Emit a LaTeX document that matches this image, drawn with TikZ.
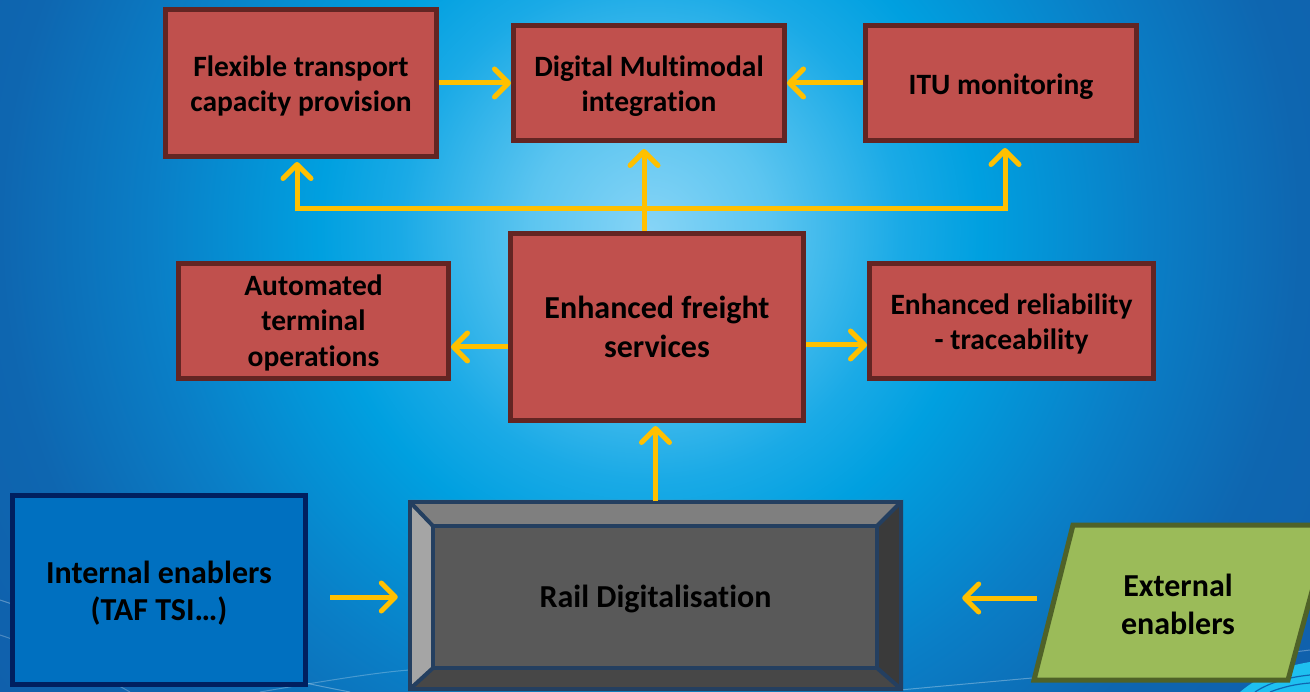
\documentclass[tikz,border=0pt]{standalone}
\usepackage{fontspec}
\setmainfont{Carlito}[Ligatures={NoCommon}]
\usetikzlibrary{arrows.meta,calc}
\definecolor{boxred}{HTML}{C0504D}
\definecolor{boxredb}{HTML}{632523}
\definecolor{arrowy}{HTML}{FFC000}
\definecolor{intfill}{HTML}{0070C0}
\definecolor{intb}{HTML}{002060}
\definecolor{extfill}{HTML}{9BBB59}
\definecolor{extb}{HTML}{4F6228}
\definecolor{bevb}{HTML}{243F60}
\definecolor{bevtop}{HTML}{7F7F7F}
\definecolor{bevleft}{HTML}{A5A5A5}
\definecolor{bevright}{HTML}{3A3A3A}
\definecolor{bevbot}{HTML}{474747}
\definecolor{bevface}{HTML}{595959}
\definecolor{bg1}{HTML}{86D4F6}
\definecolor{bg2}{HTML}{5CC5F0}
\definecolor{bg3}{HTML}{1AAAE6}
\definecolor{bg4}{HTML}{00A0E0}
\definecolor{bg5}{HTML}{0A7EC6}
\definecolor{bg6}{HTML}{0E66B0}
\definecolor{bg7}{HTML}{1060AC}
\definecolor{swoosh}{HTML}{1EC0F0}
\pgfdeclareradialshading{bgshade}{\pgfpoint{0bp}{0bp}}{color(0bp)=(bg1); color(3bp)=(bg2); color(6.25bp)=(bg3); color(8.25bp)=(bg4); color(12.5bp)=(bg5); color(16.25bp)=(bg6); color(20bp)=(bg7); color(50bp)=(bg7)}
\begin{document}
\begin{tikzpicture}[x=1pt,y=-1pt,
  redbox/.style={draw=boxredb, fill=boxred, line width=5pt, inner sep=0pt},
  redtxt/.style={align=center, inner sep=0pt, font=\bfseries\fontsize{29.5}{35.5}\selectfont},
  txt/.style={align=center, inner sep=0pt, font=\bfseries\fontsize{32}{38}\selectfont},
  line/.style={draw=arrowy, line width=5pt},
  arr/.style={draw=arrowy, line width=5pt, -{Straight Barb[length=14pt,width=28pt,round]}}]
\useasboundingbox (0,0) rectangle (1310,692);
% background
\begin{scope}
\clip (0,0) rectangle (1310,692);
\shade[shading=bgshade] (650,230) circle[radius=1000pt];
\draw[white, opacity=0.3, line width=1pt] (0,600) .. controls (120,640) and (260,675) .. (350,692);
\draw[white, opacity=0.25, line width=1pt] (0,635) .. controls (60,655) and (100,675) .. (130,692);
\draw[white, opacity=0.25, line width=1pt] (260,692) .. controls (330,680) and (380,672) .. (410,670);
\draw[white, opacity=0.3, line width=1pt] (900,690) .. controls (1050,676) and (1200,664) .. (1310,650);
\fill[swoosh] (1240,692) .. controls (1260,675) and (1285,666) .. (1310,662) -- (1310,692) -- cycle;
\draw[bg6, line width=1.2pt] (1255,692) .. controls (1270,682) and (1290,677) .. (1310,675);
\draw[bg6, line width=1.2pt] (1270,692) .. controls (1283,687) and (1296,684) .. (1310,683);
\end{scope}
% top row
\node[redbox, minimum width=271pt, minimum height=147pt] (flex) at (301,83) {};
\node[redtxt] at ([yshift=-3pt]flex.center) {Flexible transport\\capacity provision};
\node[redbox, minimum width=271pt, minimum height=115pt] (dig) at (649,83) {};
\node[redtxt] at ([yshift=-3pt]dig.center) {Digital Multimodal\\integration};
\node[redbox, minimum width=271pt, minimum height=115pt] (itu) at (1001,83) {};
\node[redtxt] at ([yshift=-3.5pt]itu.center) {ITU monitoring};
% middle row
\node[redbox, minimum width=270pt, minimum height=115pt] (auto) at (313.5,321) {};
\node[redtxt] at ([yshift=-1.5pt]auto.center) {Automated\\terminal\\operations};
\node[redbox, minimum width=293pt, minimum height=187pt] (efs) at (657,327) {};
\node[redtxt, font=\bfseries\fontsize{32}{39}\selectfont] at (efs.center) {Enhanced freight\\services};
\node[redbox, minimum width=284pt, minimum height=115pt] (rel) at (1011.5,321) {};
\node[redtxt] at ([yshift=-3pt]rel.center) {Enhanced reliability\\- traceability};
% bottom row
\node[draw=intb, fill=intfill, line width=5pt, minimum width=293pt, minimum height=188pt, inner sep=0pt] (int) at (159,590) {};
\node[txt, font=\bfseries\fontsize{32}{37}\selectfont] at ([yshift=-3pt]int.center) {Internal enablers\\(TAF TSI…)};
% bevel box
\fill[bevtop] (408,500) -- (903,500) -- (877,526) -- (433,526) -- cycle;
\fill[bevleft] (408,500) -- (433,526) -- (433,668) -- (408,691) -- cycle;
\fill[bevright] (903,500) -- (903,691) -- (877,668) -- (877,526) -- cycle;
\fill[bevbot] (408,691) -- (903,691) -- (877,668) -- (433,668) -- cycle;
\fill[bevface] (433,526) rectangle (877,668);
\draw[bevb, line width=4pt] (410,502) rectangle (901,689);
\draw[bevb, line width=4pt] (433,526) rectangle (877,668);
\draw[bevb, line width=4pt] (410,502) -- (433,526) (901,502) -- (877,526) (410,689) -- (433,668) (901,689) -- (877,668);
\node[minimum width=495pt, minimum height=191pt, inner sep=0pt] (railbox) at (655.5,597) {};
\node[txt] at ([yshift=-2pt]railbox.center) {Rail Digitalisation};
% external parallelogram
\draw[extb, fill=extfill, line width=5pt] (1073,525) -- (1330,525) -- (1288,680) -- (1034,680) -- cycle;
\node[txt] (ext) at (1178,604) {External\\enablers};
% connectors
\draw[arr] (flex.east) -- (dig.west);
\draw[arr] (itu.west) -- (dig.east);
\coordinate (tl) at (297,209);
\coordinate (tm) at (644,209);
\coordinate (tr) at (1005,209);
\draw[line] (efs.north -| tm) -- (tm);
\draw[line] ([xshift=-2.5pt]tl) -- ([xshift=2.5pt]tr);
\draw[arr, shorten >=3pt] ([yshift=-2.5pt]tl) -- (tl |- flex.south);
\draw[arr, shorten >=6pt] ([yshift=-2.5pt]tm) -- (tm |- dig.south);
\draw[arr, shorten >=5pt] ([yshift=-2.5pt]tr) -- (tr |- itu.south);
\draw[arr] ([yshift=-20pt]efs.west) coordinate (a1) -- (a1 -| auto.east);
\draw[arr] ([yshift=-18pt]efs.east) coordinate (a2) -- (a2 -| rel.west);
\draw[arr, shorten >=3pt] (railbox.north) -- (railbox.north |- efs.south);
\draw[arr, shorten <=22pt, shorten >=10pt] (int.east |- railbox) -- (railbox.west);
\coordinate (extl) at (1037,598);
\draw[arr, shorten >=59pt] (extl) -- (extl -| railbox.east);
\end{tikzpicture}
\end{document}
